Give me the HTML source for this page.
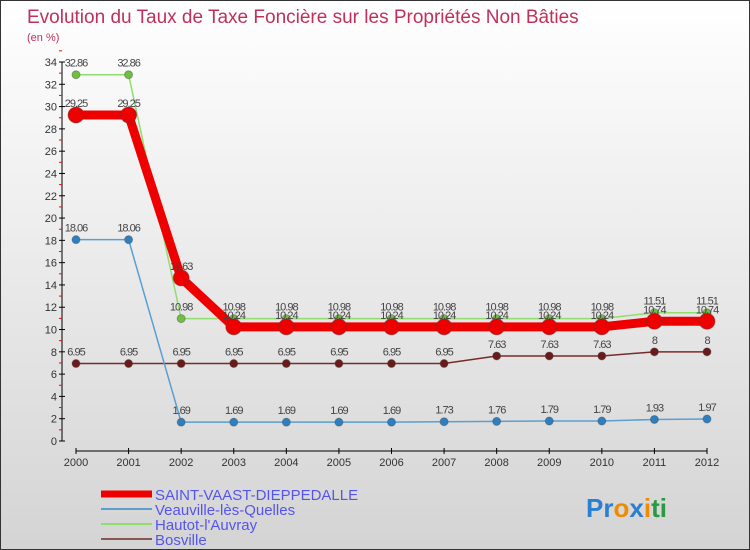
<!DOCTYPE html>
<html><head><meta charset="utf-8"><style>
body{margin:0;}
#wrap{width:748px;height:548px;border:1px solid #333;background:linear-gradient(#ffffff,#d4d4d4);position:relative;overflow:hidden;font-family:"Liberation Sans",sans-serif;}
svg{position:absolute;left:0;top:0}
</style></head><body>
<div id="wrap">
<svg id="c" width="750" height="550">
<text x="26" y="22" font-size="19" fill="#c0305a">Evolution du Taux de Taxe Foncière sur les Propriétés Non Bâties</text>
<text x="26" y="40" font-size="11" fill="#c0305a">(en %)</text>
<g id="axes"></g><g id="series"></g><g id="legend"></g>
<text x="585" y="516" font-size="26" font-weight="bold"><tspan fill="#2a7fd0">Pr</tspan><tspan fill="#f08a00">o</tspan><tspan fill="#2a7fd0">x</tspan><tspan fill="#f08a00">i</tspan><tspan fill="#2a9a40">ti</tspan></text>
</svg></div>
<script>
const years=[2000,2001,2002,2003,2004,2005,2006,2007,2008,2009,2010,2011,2012];
const saint=[29.25,29.25,14.63,10.24,10.24,10.24,10.24,10.24,10.24,10.24,10.24,10.74,10.74];
const veau=[18.06,18.06,1.69,1.69,1.69,1.69,1.69,1.73,1.76,1.79,1.79,1.93,1.97];
const haut=[32.86,32.86,10.98,10.98,10.98,10.98,10.98,10.98,10.98,10.98,10.98,11.51,11.51];
const bos=[6.95,6.95,6.95,6.95,6.95,6.95,6.95,6.95,7.63,7.63,7.63,8,8];
const yTicks=[0,2,4,6,8,10,12,14,16,18,20,22,24,26,28,30,32,34];
const names=["SAINT-VAAST-DIEPPEDALLE","Veauville-lès-Quelles","Hautot-l'Auvray","Bosville"];
const NS="http://www.w3.org/2000/svg";
const X=i=>75+i*(706-75)/(years.length-1);
const Y=v=>440-v*(440-61)/34;
function mk(t,a,p){const e=document.createElementNS(NS,t);for(const k in a)e.setAttribute(k,a[k]);p.appendChild(e);return e;}
const ax=document.getElementById('axes');
let l=mk('line',{x1:61,y1:61,x2:61,y2:440,stroke:'#000'},ax);

yTicks.forEach(v=>{mk('line',{x1:58,y1:Y(v),x2:64,y2:Y(v),stroke:'#000'},ax);
mk('line',{x1:58,y1:Y(v+1),x2:61,y2:Y(v+1),stroke:'red'},ax);
const t=mk('text',{x:56,y:Y(v)+4,'font-size':11,'text-anchor':'end',fill:'#333'},ax);t.textContent=v;
});
l=mk('line',{x1:75,y1:450,x2:706,y2:450,stroke:'#000'},ax);

years.forEach((y,i)=>{mk('line',{x1:X(i),y1:447,x2:X(i),y2:453,stroke:'#000'},ax);
const t=mk('text',{x:X(i),y:465,'font-size':11,'text-anchor':'middle',fill:'#333'},ax);t.textContent=y;
});
const sg=document.getElementById('series');
const defs=[[bos,'#7a2a2a','#6a1a1a',1.5,4,'bosville'],[veau,'#5a9fd0','#2e7fc0',1.5,4,'veauville'],[haut,'#90dd70','#70c040',1.5,4,'hautot'],[saint,'#ee0000','#ee0000',9,8,'saint-vaast']];
defs.forEach(([d,c,pc,w,r,n])=>{
const p=mk('polyline',{points:d.map((v,i)=>X(i)+','+Y(v)).join(' '),fill:'none',stroke:c,'stroke-width':w},sg);

d.forEach((v,i)=>{const ci=mk('circle',{cx:X(i),cy:Y(v),r:r,fill:pc,stroke:'#444','stroke-opacity':0.4},sg);

const t=mk('text',{x:X(i),y:Y(v)-8,'font-size':11,'text-anchor':'middle',fill:'#444','letter-spacing':'-1'},sg);t.textContent=v;
});
});
const lg=document.getElementById('legend');
const lc=[['#ee0000',7],['#5a9fd0',2],['#90dd70',2],['#8a5555',2]];
names.forEach((n,i)=>{const y=493+i*15;
const ln=mk('line',{x1:100,y1:y,x2:151,y2:y,stroke:lc[i][0],'stroke-width':lc[i][1]},lg);

const t=mk('text',{x:154,y:y+6,'font-size':15,fill:'#5555ee'},lg);t.textContent=n;
});
</script>
</body></html>
